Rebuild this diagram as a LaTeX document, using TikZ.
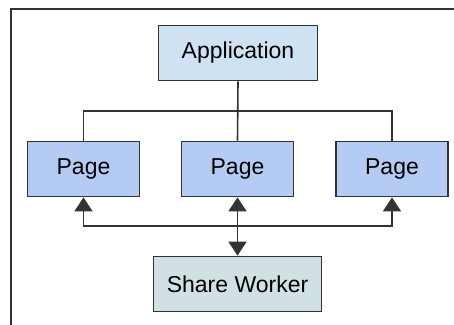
\documentclass[tikz,border=0pt]{standalone}
\usepackage{fontspec}
\setmainfont{Liberation Sans}
\usetikzlibrary{arrows.meta,positioning}
\definecolor{appblue}{RGB}{207,226,243}
\definecolor{pageblue}{RGB}{180,204,244}
\definecolor{workergray}{RGB}{208,224,227}
\definecolor{edgegray}{RGB}{51,51,51}

\begin{document}
\begin{tikzpicture}[x=1pt, y=-1pt,
    box/.style={draw=edgegray, line width=1.8pt, minimum height=55pt, inner sep=0pt,
      font=\fontsize{23}{27}\selectfont},
    link/.style={draw=edgegray, line width=1.6pt},
    tip/.style={-{Triangle[width=18pt,length=14pt]}},
    twotips/.style={{Triangle[width=18pt,length=14pt]}-{Triangle[width=18pt,length=14pt]}}]
  \useasboundingbox (0,0) rectangle (454,324);
  \draw[line width=1.6pt, edgegray] (11,330) -- (11,9) -- (460,9);

  % boxes
  \node[box, fill=appblue, minimum width=159pt] (app) at (238,53) {Application};
  \node[box, fill=pageblue, minimum width=112pt] (page1) at (83.5,169) {Page};
  \node[box, fill=pageblue, minimum width=112pt] (page2) at (237.5,169) {Page};
  \node[box, fill=pageblue, minimum width=112pt] (page3) at (392,169) {Page};
  \node[box, fill=workergray, minimum width=168pt] (worker) at (237.5,284) {Share Worker};

  % application to pages
  \coordinate (topbus) at (237.5,111);
  \draw[link] (app.south) -- (page2.north);
  \draw[link] (page1.north) |- (topbus) -| (page3.north);

  % pages and worker
  \coordinate (lowbus) at (237.5,226);
  \draw[link, tip] (lowbus) -| (page1.south);
  \draw[link, tip] (lowbus) -| (page3.south);
  \draw[link, twotips] (page2.south) -- (worker.north);
\end{tikzpicture}
\end{document}
